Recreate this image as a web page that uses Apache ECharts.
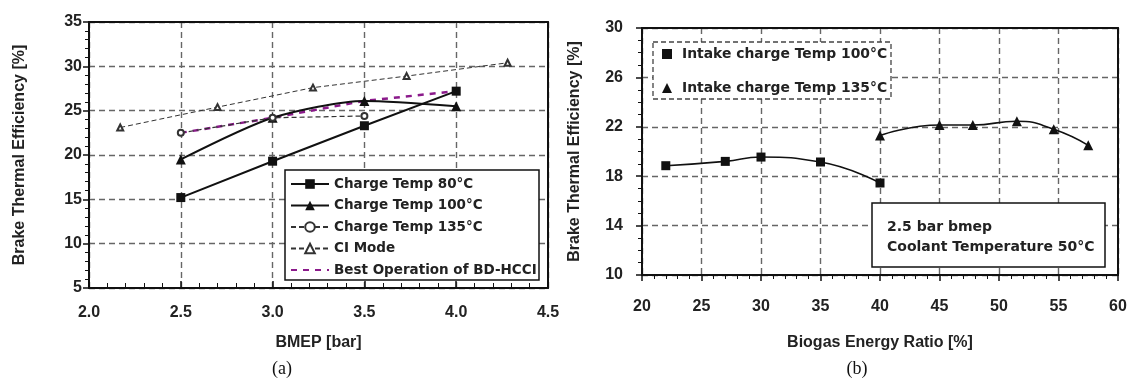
<!DOCTYPE html>
<html><head><meta charset="utf-8">
<script src="https://cdn.jsdelivr.net/npm/echarts@6/dist/echarts.min.js"></script>
<style>html,body{margin:0;padding:0;background:#fff}#c{width:1133px;height:381px}</style>
</head><body><div id="c"></div>
<script>
// ---- Data: chart (a) ----
const bmep80 = [[2.5, 15.2], [3.0, 19.3], [3.5, 23.3], [4.0, 27.2]];
const bmep100 = [[2.5, 19.5], [3.0, 24.2], [3.5, 26.1], [4.0, 25.5]];
const bmep135 = [[2.5, 22.5], [3.0, 24.2], [3.5, 24.4]];
const ciMode = [[2.17, 23.1], [2.7, 25.4], [3.22, 27.6], [3.73, 28.9], [4.28, 30.4]];
const bestOp = [[2.5, 22.5], [3.0, 24.2], [3.5, 26.1], [4.0, 27.2]];
const namesA = ['Charge Temp 80°C', 'Charge Temp 100°C', 'Charge Temp 135°C', 'CI Mode', 'Best Operation of BD-HCCI'];
// ---- Data: chart (b) ----
const intake100 = [[22, 18.85], [27, 19.2], [30, 19.55], [35, 19.15], [40, 17.45]];
const intake135 = [[40, 21.3], [45, 22.15], [47.8, 22.15], [51.5, 22.45], [54.6, 21.8], [57.5, 20.5]];
const namesB = ['Intake charge Temp 100°C', 'Intake charge Temp 135°C'];
const noteB = ['2.5 bar bmep', 'Coolant Temperature 50°C'];

const FONT = '"Liberation Sans", Arial, sans-serif';
const FONT2 = '"DejaVu Sans", sans-serif';
const ink = '#111';
const gridLine = {show: true, lineStyle: {color: '#666', type: [6, 4], width: 1.4}};

function valueAxis(o) {
  return Object.assign({
    type: 'value',
    axisLine: {show: true, onZero: false, lineStyle: {color: ink, width: 2}},
    axisTick: {show: true, length: 6, lineStyle: {color: ink, width: 1.5}},
    minorTick: {show: true, splitNumber: 5, length: 4, lineStyle: {color: ink, width: 1}},
    splitLine: gridLine,
    axisLabel: {color: '#222', fontFamily: FONT, fontWeight: 'bold', fontSize: 16},
    nameTextStyle: {color: '#222', fontFamily: FONT, fontWeight: 'bold', fontSize: 16},
    nameLocation: 'middle'
  }, o);
}
function frameAxis(type, gridIndex, position) {
  return {type: 'value', gridIndex, position, min: 0, max: 1,
    axisLine: {show: true, onZero: false, lineStyle: {color: ink, width: 2}},
    axisTick: {show: false}, axisLabel: {show: false}, splitLine: {show: false}};
}

const chart = echarts.init(document.getElementById('c'), null, {renderer: 'canvas'});
chart.setOption({
  animation: false,
  backgroundColor: '#fff',
  grid: [
    {left: 89, top: 22, width: 459, height: 266},
    {left: 642, top: 28, width: 476, height: 247}
  ],
  xAxis: [
    valueAxis({gridIndex: 0, min: 2, max: 4.5, interval: 0.5, name: 'BMEP [bar]', nameGap: 47,
      axisTick: {show: true, inside: true, length: 7, lineStyle: {color: ink, width: 1.5}},
      minorTick: {show: true, splitNumber: 5, length: 5, lineStyle: {color: ink, width: 1}},
      axisLabel: {color: '#222', fontFamily: FONT, fontWeight: 'bold', fontSize: 16, margin: 17,
        formatter: v => v.toFixed(1)}}),
    valueAxis({gridIndex: 1, min: 20, max: 60, interval: 5, name: 'Biogas Energy Ratio [%]', nameGap: 60,
      axisTick: {show: true, length: 6, lineStyle: {color: ink, width: 1.5}},
      minorTick: {show: true, splitNumber: 5, length: 4, lineStyle: {color: ink, width: 1}},
      axisLabel: {color: '#222', fontFamily: FONT, fontWeight: 'bold', fontSize: 16, margin: 24}}),
    frameAxis('x', 0, 'top'),
    frameAxis('x', 1, 'top')
  ],
  yAxis: [
    valueAxis({gridIndex: 0, min: 5, max: 35, interval: 5, name: 'Brake Thermal Efficiency [%]', nameGap: 61,
      axisLabel: {color: '#222', fontFamily: FONT, fontWeight: 'bold', fontSize: 16, margin: 7}}),
    valueAxis({gridIndex: 1, min: 10, max: 30, interval: 4, name: 'Brake Thermal Efficiency [%]', nameGap: 59,
      minorTick: {show: true, splitNumber: 4, length: 4, lineStyle: {color: ink, width: 1}},
      axisLabel: {color: '#222', fontFamily: FONT, fontWeight: 'bold', fontSize: 16, margin: 19}}),
    frameAxis('y', 0, 'right'),
    frameAxis('y', 1, 'right')
  ],
  legend: [
    {left: 285, top: 172, orient: 'vertical', itemWidth: 38, itemHeight: 12, itemGap: 7.5,
      data: [namesA[0], namesA[1], namesA[2], namesA[3], {name: namesA[4], itemStyle: {opacity: 0}}],
      textStyle: {color: '#222', fontFamily: FONT2, fontWeight: 'bold', fontSize: 13.5},
      selectedMode: false},
    {left: 657, top: 42, orient: 'vertical', itemWidth: 10, itemHeight: 10, itemGap: 20,
      data: [{name: namesB[0], icon: 'rect'}, {name: namesB[1], icon: 'triangle'}],
      textStyle: {color: '#222', fontFamily: FONT2, fontWeight: 'bold', fontSize: 13.9, padding: [0, 0, 0, 5]},
      selectedMode: false}
  ],
  graphic: [
    {type: 'rect', z: 2, shape: {x: 285, y: 170, width: 254, height: 110},
      style: {fill: '#fff', stroke: ink, lineWidth: 1.5}},
    {type: 'rect', z: 2, shape: {x: 653, y: 42, width: 238, height: 57},
      style: {fill: '#fff', stroke: '#444', lineWidth: 1.3, lineDash: [5, 3]}},
    {type: 'rect', z: 2, shape: {x: 872, y: 203, width: 233, height: 64},
      style: {fill: '#fff', stroke: ink, lineWidth: 1.5}},
    {type: 'text', z: 3, x: 887, y: 227, style: {text: noteB[0], fill: '#222', font: 'bold 14px ' + FONT2, textVerticalAlign: 'middle'}},
    {type: 'text', z: 3, x: 887, y: 247, style: {text: noteB[1], fill: '#222', font: 'bold 14px ' + FONT2, textVerticalAlign: 'middle'}},
    {type: 'text', x: 282, y: 369, style: {text: '(a)', fill: '#111', font: '18px "Liberation Serif", "DejaVu Serif", serif', textAlign: 'center', textVerticalAlign: 'middle'}},
    {type: 'text', x: 857, y: 369, style: {text: '(b)', fill: '#111', font: '18px "Liberation Serif", "DejaVu Serif", serif', textAlign: 'center', textVerticalAlign: 'middle'}}
  ],
  series: [
    {name: namesA[4], type: 'line', xAxisIndex: 0, yAxisIndex: 0, data: bestOp, symbol: 'none', z: 4,
      lineStyle: {color: '#8b1a8b', width: 2.5, type: [6, 6]}, itemStyle: {color: '#8b1a8b'}},
    {name: namesA[0], type: 'line', xAxisIndex: 0, yAxisIndex: 0, data: bmep80, symbol: 'rect', symbolSize: 9,
      lineStyle: {color: ink, width: 2}, itemStyle: {color: ink}, z: 5},
    {name: namesA[1], type: 'line', xAxisIndex: 0, yAxisIndex: 0, data: bmep100, symbol: 'triangle', symbolSize: 10,
      smooth: 0.25, lineStyle: {color: ink, width: 2}, itemStyle: {color: ink}, z: 5},
    {name: namesA[2], type: 'line', xAxisIndex: 0, yAxisIndex: 0, data: bmep135, symbol: 'emptyCircle', symbolSize: 6,
      lineStyle: {color: '#333', width: 1.2, type: [5, 3]}, itemStyle: {color: '#333', borderWidth: 1}, z: 5},
    {name: namesA[3], type: 'line', xAxisIndex: 0, yAxisIndex: 0, data: ciMode, symbol: 'emptyTriangle', symbolSize: 6,
      lineStyle: {color: '#333', width: 1, type: [5, 3]}, itemStyle: {color: '#333', borderWidth: 1}, z: 5},
    {name: namesB[0], type: 'line', xAxisIndex: 1, yAxisIndex: 1, data: intake100, symbol: 'rect', symbolSize: 9,
      smooth: 0.5, lineStyle: {color: ink, width: 1.6}, itemStyle: {color: ink}, z: 5},
    {name: namesB[1], type: 'line', xAxisIndex: 1, yAxisIndex: 1, data: intake135, symbol: 'triangle', symbolSize: 10,
      smooth: 0.5, lineStyle: {color: ink, width: 1.6}, itemStyle: {color: ink}, z: 5}
  ]
});
</script></body></html>
